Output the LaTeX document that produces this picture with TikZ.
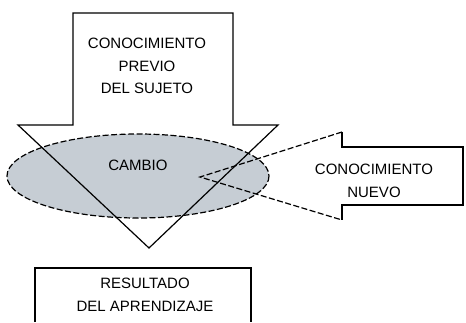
\documentclass[tikz,border=0pt]{standalone}
\usepackage{fontspec}
\setmainfont{Liberation Sans}
\usetikzlibrary{calc}
\definecolor{cambiogray}{RGB}{198,205,212}
\tikzstyle{outline}=[line width=1.2pt,black]
\tikzstyle{dashedline}=[line width=1.2pt,black,dash pattern=on 6pt off 2.5pt]
\tikzstyle{textblock}=[align=center,inner sep=0pt,font=\fontsize{15}{22.5}\selectfont]

\begin{document}
\begin{tikzpicture}[x=1pt,y=-1pt]
  \useasboundingbox (0,0) rectangle (466,322);
  % the change, under both arrows
  \draw[dashedline,fill=cambiogray] (138,176) ellipse [x radius=131, y radius=42];
  \node[textblock] (cambio) at (138,165) {CAMBIO};
  % arrow down: previous knowledge
  \draw[outline] (73,13) -- (233,13) -- (233,125) -- (278,125) -- (149,248)
    -- (18,125) -- (73,125) -- cycle;
  \node[textblock] (previo) at (147,66) {CONOCIMIENTO\\PREVIO\\DEL SUJETO};
  % arrow left: new knowledge
  \draw[outline] (342,132) -- (342,147) -- (463,147) -- (463,205) -- (342,205) -- (342,220);
  \draw[dashedline] (342,132) -- (200,177) -- (342,220);
  \node[textblock] (nuevo) at (374,181) {CONOCIMIENTO\\NUEVO};
  % result, cut at the bottom
  \draw[outline] (35,322) -- (35,268) -- (251,268) -- (251,322);
  \node[textblock] (resultado) at (145,295) {RESULTADO\\DEL APRENDIZAJE};
\end{tikzpicture}
\end{document}
